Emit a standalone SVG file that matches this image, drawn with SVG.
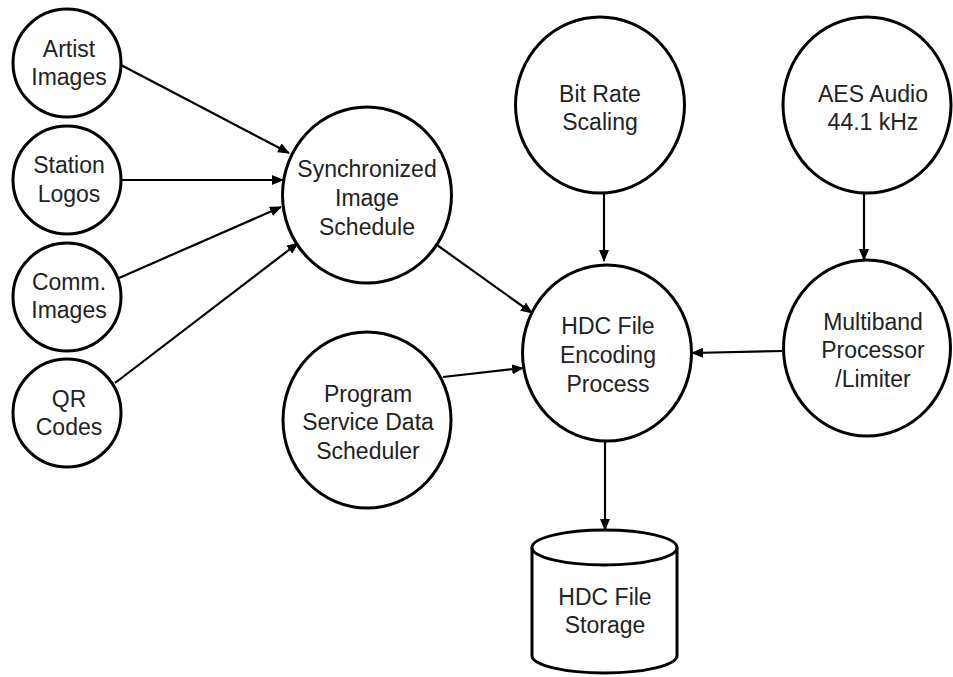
<svg xmlns="http://www.w3.org/2000/svg" width="953" height="677" viewBox="0 0 953 677">
<style>
.n{fill:#fff;stroke:#000;stroke-width:3}
.t{font-family:"Liberation Sans",Arial,sans-serif;font-size:23px;fill:#222;text-anchor:middle}
.c{stroke:#000;stroke-width:2.2;fill:none;marker-end:url(#ah)}
</style>
<defs>
<marker id="ah" markerWidth="12" markerHeight="10" refX="11" refY="5" orient="auto" markerUnits="userSpaceOnUse">
<path d="M0,0 L12,5 L0,10 Z" fill="#000"/>
</marker>
</defs>
<rect width="953" height="677" fill="#fff"/>
<g id="connectors">
<line class="c" x1="121" y1="65" x2="289" y2="153"/>
<line class="c" x1="121" y1="180" x2="283" y2="180"/>
<line class="c" x1="119" y1="278" x2="281" y2="207"/>
<line class="c" x1="115" y1="383" x2="298" y2="243"/>
<line class="c" x1="437" y1="245" x2="532" y2="313"/>
<line class="c" x1="443" y1="377" x2="523" y2="368"/>
<line class="c" x1="604" y1="193" x2="604" y2="261"/>
<line class="c" x1="864" y1="189" x2="864" y2="260"/>
<line class="c" x1="783" y1="351" x2="692" y2="353"/>
<line class="c" x1="605" y1="442" x2="605" y2="530"/>
</g>
<g id="artist"><circle class="n" cx="67" cy="63" r="54"/><text class="t" x="69" y="57">Artist</text><text class="t" x="69" y="85">Images</text></g>
<g id="station"><circle class="n" cx="67" cy="180" r="54"/><text class="t" x="69" y="173">Station</text><text class="t" x="69" y="202">Logos</text></g>
<g id="comm"><circle class="n" cx="67" cy="297" r="54"/><text class="t" x="69" y="290">Comm.</text><text class="t" x="69" y="318">Images</text></g>
<g id="qr"><circle class="n" cx="67" cy="413" r="54"/><text class="t" x="69" y="407">QR</text><text class="t" x="69" y="435">Codes</text></g>
<g id="sync"><ellipse class="n" cx="367" cy="195" rx="84.5" ry="88"/><text class="t" x="367" y="177">Synchronized</text><text class="t" x="367" y="206">Image</text><text class="t" x="367" y="235">Schedule</text></g>
<g id="program"><ellipse class="n" cx="367" cy="420" rx="84" ry="88"/><text class="t" x="368" y="402">Program</text><text class="t" x="368" y="430">Service Data</text><text class="t" x="368" y="459">Scheduler</text></g>
<g id="bitrate"><ellipse class="n" cx="600" cy="105" rx="84.5" ry="88"/><text class="t" x="600" y="102">Bit Rate</text><text class="t" x="600" y="130">Scaling</text></g>
<g id="aes"><ellipse class="n" cx="867" cy="105" rx="84" ry="88"/><text class="t" x="873" y="102">AES Audio</text><text class="t" x="873" y="130">44.1 kHz</text></g>
<g id="hdc"><ellipse class="n" cx="607" cy="353" rx="84.5" ry="88"/><text class="t" x="608" y="334">HDC File</text><text class="t" x="608" y="363">Encoding</text><text class="t" x="608" y="392">Process</text></g>
<g id="multiband"><ellipse class="n" cx="867" cy="348" rx="83.5" ry="88"/><text class="t" x="873" y="330">Multiband</text><text class="t" x="873" y="358">Processor</text><text class="t" x="873" y="387">/Limiter</text></g>
<g id="storage">
<path class="n" d="M532,547.5 L532,655.5 A72.5,17.5 0 0 0 677,655.5 L677,547.5 A72.5,17.5 0 0 0 532,547.5 Z"/>
<path d="M532,547.5 A72.5,17.5 0 0 0 677,547.5" fill="none" stroke="#000" stroke-width="3"/>
<text class="t" x="605" y="605">HDC File</text><text class="t" x="605" y="633">Storage</text>
</g>
</svg>
